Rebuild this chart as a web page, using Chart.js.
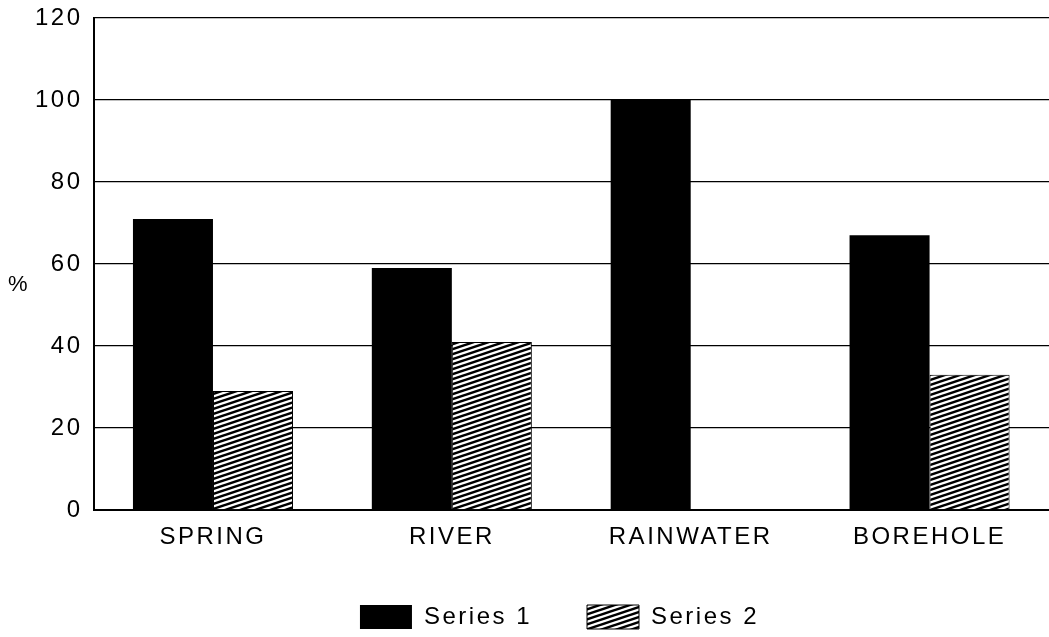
<!DOCTYPE html>
<html>
<head>
<meta charset="utf-8">
<script src="https://cdn.jsdelivr.net/npm/chart.js@4"></script>
<style>
  body { margin: 0; background: #fff; }
</style>
</head>
<body>
<canvas id="chart" width="1049" height="637"></canvas>
<script>
const categories = ['SPRING', 'RIVER', 'RAINWATER', 'BOREHOLE']
const series1 = [71, 59, 100, 67]
const series2 = [29, 41, 0, 33]
const yTicks = [0, 20, 40, 60, 80, 100, 120]

// hatch fill for Series 2
function hatch() {
  const tile = document.createElement('canvas')
  tile.width = 15
  tile.height = 5
  const c = tile.getContext('2d')
  c.fillStyle = '#fff'
  c.fillRect(0, 0, 15, 5)
  c.strokeStyle = '#000'
  c.lineWidth = 2.5
  for (let k = -3; k <= 4; k++) {
    c.beginPath()
    c.moveTo(-15, 5 * k + 5)
    c.lineTo(30, 5 * k - 10)
    c.stroke()
  }
  return c.createPattern(tile, 'repeat')
}

const spacing = {
  id: 'spacing',
  beforeLayout(chart) { chart.ctx.letterSpacing = '2.5px' },
  // nudge the legend a bit to the right, like the original
  afterLayout(chart) { chart.legend.left += 46 },
  beforeDraw(chart) { chart.ctx.letterSpacing = '2.5px' },
  afterDraw(chart) {
    const ctx = chart.ctx
    const y = chart.scales.y
    ctx.save()
    ctx.fillStyle = '#000'
    ctx.font = '22px "Liberation Sans", Arial, sans-serif'
    ctx.textAlign = 'center'
    ctx.textBaseline = 'middle'
    ctx.fillText('%', 19, y.getPixelForValue(55))
    ctx.restore()
  }
}

const font = { family: '"Liberation Sans", Arial, sans-serif', size: 24, lineHeight: 1 }

new Chart(document.getElementById('chart'), {
  type: 'bar',
  data: {
    labels: categories,
    datasets: [{
      label: 'Series 1',
      data: series1,
      backgroundColor: '#000',
      borderWidth: 0
    },
    {
      label: 'Series 2',
      data: series2,
      backgroundColor: hatch(),
      borderColor: '#000',
      borderWidth: 1
    }]
  },
  options: {
    responsive: false,
    animation: false,
    categoryPercentage: 0.67,
    barPercentage: 1,
    layout: { padding: { top: 0, right: 0, left: 24, bottom: -2 } },
    plugins: {
      tooltip: { enabled: false },
      legend: {
        position: 'bottom',
        labels: {
          color: '#000',
          font: font,
          boxWidth: 52,
          boxHeight: 24,
          padding: 55
        }
      }
    },
    scales: {
      x: {
        grid: { display: false },
        border: { color: '#000', width: 2 },
        ticks: { color: '#000', font: font, padding: 7, maxRotation: 0 },
        afterFit(axis) { axis.height = 40 }
      },
      y: {
        min: 0,
        max: 120,
        afterBuildTicks(axis) { axis.ticks = yTicks.map(v => ({ value: v })) },
        afterFit(axis) { axis.paddingTop = 18 },
        grid: { color: '#000', lineWidth: 1.3, drawTicks: false },
        border: { color: '#000', width: 2 },
        ticks: { color: '#000', font: font, padding: 11 }
      }
    }
  },
  plugins: [spacing]
})
</script>
</body>
</html>
